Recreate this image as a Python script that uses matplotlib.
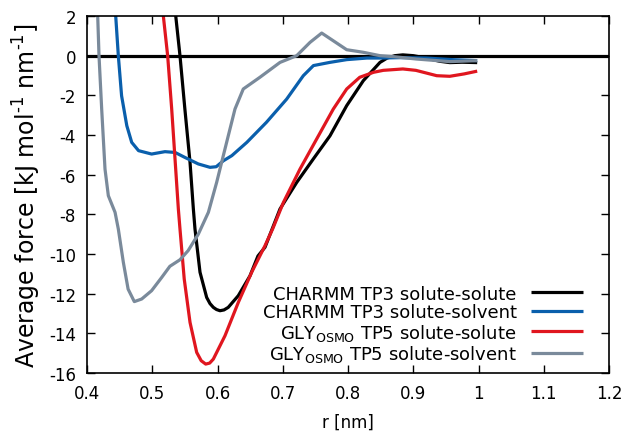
import matplotlib
matplotlib.use("Agg")
import matplotlib.pyplot as plt

plt.rcParams["axes.unicode_minus"] = False

# CHARMM TP3 solute-solute (black)
x_cs = [0.534, 0.536, 0.5425, 0.550, 0.5579, 0.5630, 0.5655, 0.5732, 0.5834, 0.5885, 0.5936, 0.5985,
        0.6038, 0.610, 0.6165, 0.6319, 0.6498, 0.662, 0.6728, 0.6958, 0.7214, 0.7468, 0.7724, 0.798,
        0.8235, 0.849, 0.860, 0.872, 0.884, 0.900, 0.920, 0.940, 0.956, 0.975, 0.998]
y_cs = [3.0, 2.0, 0.0, -2.69, -5.38, -7.73, -8.74, -10.92, -12.19, -12.5, -12.69, -12.8,
        -12.86, -12.82, -12.69, -12.1, -11.1, -10.1, -9.66, -7.73, -6.39, -5.21, -4.04, -2.52,
        -1.26, -0.34, -0.12, 0.0, 0.04, 0.0, -0.12, -0.28, -0.35, -0.33, -0.35]

# CHARMM TP3 solute-solvent (blue)
x_cv = [0.442, 0.444, 0.448, 0.453, 0.461, 0.4685, 0.479, 0.499, 0.5195, 0.535, 0.550,
        0.5706, 0.5885, 0.598, 0.609, 0.622, 0.645, 0.675, 0.706, 0.7315, 0.747, 0.772,
        0.798, 0.829, 0.849, 0.880, 0.920, 0.960, 0.998]
y_cv = [3.0, 2.0, 0.0, -2.02, -3.53, -4.37, -4.79, -4.96, -4.84, -4.88, -5.13,
        -5.46, -5.63, -5.6, -5.3, -5.04, -4.37, -3.36, -2.19, -1.01, -0.5, -0.34,
        -0.2, -0.12, -0.12, -0.1, -0.12, -0.2, -0.25]

# GLY_OSMO TP5 solute-solute (red)
x_gs = [0.5155, 0.517, 0.5236, 0.5298, 0.5349, 0.5400, 0.5425, 0.549, 0.5579, 0.5681, 0.575, 0.5819,
        0.588, 0.5936, 0.6115, 0.6319, 0.6524, 0.6728, 0.685, 0.701, 0.7264, 0.752, 0.7775, 0.798,
        0.818, 0.839, 0.854, 0.884, 0.904, 0.936, 0.956, 0.978, 0.998]
y_gs = [3.0, 2.0, 0.0, -2.69, -5.21, -7.73, -8.74, -11.26, -13.45, -14.96, -15.38, -15.55,
        -15.5, -15.3, -14.12, -12.44, -10.92, -9.58, -8.7, -7.4, -5.72, -4.2, -2.69, -1.68,
        -1.09, -0.84, -0.74, -0.67, -0.74, -1.01, -1.04, -0.92, -0.78]

# GLY_OSMO TP5 solute-solvent (gray)
x_gv = [0.415, 0.4164, 0.4184, 0.4225, 0.4276, 0.4327, 0.443, 0.448, 0.4557, 0.463, 0.4725,
        0.4838, 0.499, 0.5145, 0.527, 0.5425, 0.555, 0.5706, 0.586, 0.5987, 0.614, 0.6268,
        0.6395, 0.665, 0.6958, 0.7214, 0.7418, 0.7597, 0.7775, 0.798, 0.8235, 0.849, 0.870,
        0.905, 0.956, 0.998]
y_gv = [3.0, 2.0, 0.0, -2.69, -5.72, -7.06, -7.9, -8.74, -10.42, -11.77, -12.4,
        -12.27, -11.85, -11.18, -10.62, -10.29, -9.83, -9.0, -7.9, -6.39, -4.37, -2.69,
        -1.68, -1.09, -0.34, 0.0, 0.67, 1.14, 0.75, 0.30, 0.17, 0.0, -0.05,
        -0.17, -0.3, -0.25]

labels = ["CHARMM TP3 solute-solute", "CHARMM TP3 solute-solvent",
          r"GLY$_{\mathregular{OSMO}}$ TP5 solute-solute",
          r"GLY$_{\mathregular{OSMO}}$ TP5 solute-solvent"]
colors = ["#000000", "#0a5fac", "#e0161f", "#7a8a9b"]

fig = plt.figure(figsize=(6.27, 4.35), dpi=100)
ax = fig.add_axes([87/627, 1 - 374/435, (609-87)/627, (374-17)/435])

ax.axhline(0, color="black", lw=2.3, zorder=1)
series = [(x_cs, y_cs), (x_cv, y_cv), (x_gs, y_gs), (x_gv, y_gv)]
for (xs, ys), lab, c in zip(series, labels, colors):
    ax.plot(xs, ys, color=c, lw=2.3, label=lab, zorder=2,
            solid_joinstyle="round", solid_capstyle="butt")

ax.set_xlim(0.4, 1.2)
ax.set_ylim(-16, 2)
ax.set_xticks([0.4, 0.5, 0.6, 0.7, 0.8, 0.9, 1.0, 1.1, 1.2])
ax.set_xticklabels(["0.4", "0.5", "0.6", "0.7", "0.8", "0.9", "1", "1.1", "1.2"])
ax.set_yticks(range(-16, 3, 2))
ax.tick_params(direction="in", top=True, right=True, length=6, width=1, labelsize=12, pad=8)
for s in ax.spines.values():
    s.set_linewidth(1.2)
ax.set_xlabel("r [nm]", fontsize=12, labelpad=8)
ax.set_ylabel("Average force [kJ mol$^{\\mathregular{\u20101}}$ nm$^{\\mathregular{\u20101}}$]",
              fontsize=17, labelpad=4)

leg = ax.legend(loc="lower right", frameon=False, markerfirst=False, fontsize=13,
                handlelength=2.9, labelspacing=0.02, handletextpad=0.8,
                bbox_to_anchor=(0.982, -0.02))
for t in leg.get_texts():
    t.set_ha("right")
fig.savefig("out.png", dpi=100)
